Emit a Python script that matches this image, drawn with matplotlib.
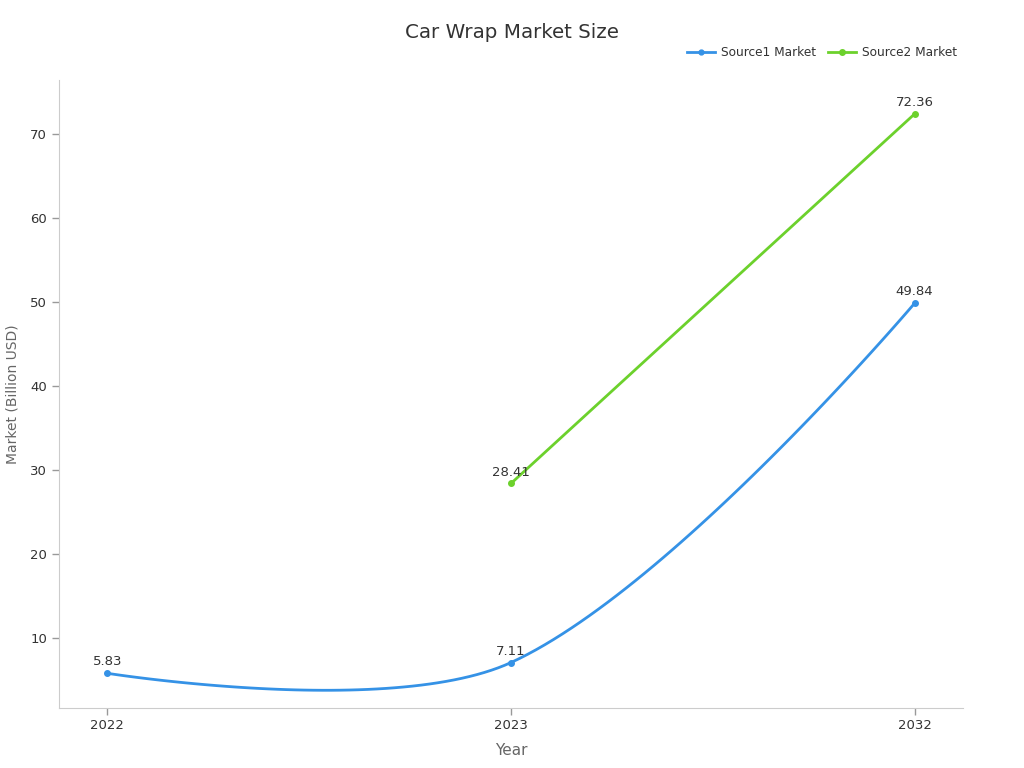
import numpy as np
import matplotlib
matplotlib.use("Agg")
import matplotlib.pyplot as plt

years = ["2022", "2023", "2032"]
source1 = [5.83, 7.11, 49.84]
source2 = [np.nan, 28.41, 72.36]
series_names = ["Source1 Market", "Source2 Market"]

BLUE = "#3592e6"
GREEN = "#6cd12c"

plt.rcParams['font.family'] = ['DejaVu Sans']

fig = plt.figure(figsize=(10.24, 7.68), dpi=100)
ax = fig.add_axes([0.0576, 0.0781, 0.8828, 0.8177])
x = np.arange(len(years))
ax.set_xlim(-0.12, 2.12)
ax.set_ylim(1.7, 76.4)


def smooth_curve(ax, xs, ys, smooth=0.35, n=60):
    pts = ax.transData.transform(np.column_stack([xs, ys]))
    m = len(pts)
    cps = []
    for i in range(m):
        p = pts[i]
        if i == 0 or i == m - 1:
            cps.append((p, p))
            continue
        prev, nxt = pts[i - 1], pts[i + 1]
        v = (nxt - prev) * smooth
        d0 = np.linalg.norm(p - prev)
        d1 = np.linalg.norm(p - nxt)
        s = d0 + d1
        cps.append((p - v * d0 / s, p + v * d1 / s))
    out = []
    t = np.linspace(0, 1, n)[:, None]
    for i in range(m - 1):
        P0 = pts[i]
        C1 = cps[i][1]
        C2 = cps[i + 1][0]
        P3 = pts[i + 1]
        b = (1 - t) ** 3 * P0 + 3 * (1 - t) ** 2 * t * C1 + 3 * (1 - t) * t ** 2 * C2 + t ** 3 * P3
        out.append(b if i == 0 else b[1:])
    out = np.vstack(out)
    return ax.transData.inverted().transform(out)


curve = smooth_curve(ax, x, source1)
ax.plot(curve[:, 0], curve[:, 1], color=BLUE, lw=2, solid_capstyle='round')
ax.plot(x, source1, 'o', color=BLUE, ms=4)
ax.plot([], [], color=BLUE, lw=2, marker='o', ms=3.5, label=series_names[0])

ax.plot(x, source2, color=GREEN, lw=2, marker='o', ms=4, label=series_names[1])

for xi, v in zip(x, source1):
    ax.annotate(f"{v:.2f}", (xi, v), xytext=(0, 3.5), textcoords='offset points',
                ha='center', va='bottom', fontsize=9.5, color='#333333')
for xi, v in zip(x, source2):
    if not np.isnan(v):
        ax.annotate(f"{v:.2f}", (xi, v), xytext=(0, 3.5), textcoords='offset points',
                    ha='center', va='bottom', fontsize=9.5, color='#333333')

ax.set_xticks(x)
ax.set_xticklabels(years)
ax.set_yticks([10, 20, 30, 40, 50, 60, 70])
ax.tick_params(axis='both', colors='#999999', labelcolor='#333333', labelsize=9.5, length=5, width=1)
ax.tick_params(axis='x', pad=3)
for s in ['top', 'right']:
    ax.spines[s].set_visible(False)
for s in ['left', 'bottom']:
    ax.spines[s].set_color('#cccccc')

ax.set_xlabel("Year", fontsize=11, color='#666666', labelpad=8)
ax.set_ylabel("Market (Billion USD)", fontsize=10, color='#666666', labelpad=8)

fig.text(0.5, 1 - 33 / 768, "Car Wrap Market Size", ha='center', va='center', fontsize=14.3, color='#333333')

leg = fig.legend(loc='center right', bbox_to_anchor=(0.945, 1 - 53 / 768), ncol=2, frameon=False,
                 fontsize=8.7, handlelength=2.3, columnspacing=1.0, handletextpad=0.5)
for t in leg.get_texts():
    t.set_color('#333333')

fig.savefig("out.png", dpi=100)
